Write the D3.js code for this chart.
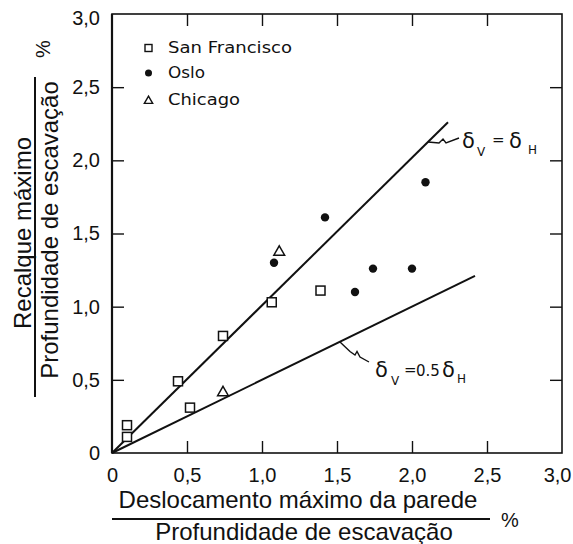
<!DOCTYPE html>
<html>
<head>
<meta charset="utf-8">
<script src="https://cdn.jsdelivr.net/npm/d3@7"></script>
<style>
  html, body { margin: 0; padding: 0; background: #fff; }
  svg { display: block; }
  text { fill: #111; }
</style>
</head>
<body>
<svg id="chart" width="573" height="544"></svg>
<script>
// ---- data ----
const xTicks = [0, 0.5, 1.0, 1.5, 2.0, 2.5, 3.0];
const yTicks = [0, 0.5, 1.0, 1.5, 2.0, 2.5, 3.0];
const tickLabels = ["0", "0,5", "1,0", "1,5", "2,0", "2,5", "3,0"];

const seriesNames = ["San Francisco", "Oslo", "Chicago"];
const sanFrancisco = [[0.10, 0.11], [0.10, 0.19], [0.44, 0.49], [0.52, 0.31], [0.74, 0.80], [1.065, 1.03], [1.39, 1.11]];
const oslo = [[1.08, 1.30], [1.42, 1.61], [2.09, 1.85], [1.74, 1.26], [2.00, 1.26], [1.62, 1.10]];
const chicago = [[0.74, 0.42], [1.115, 1.38]];

const lineEqual = [[0, 0], [2.24, 2.26]];   // δV = δH
const lineHalf = [[0, 0], [2.42, 1.21]];    // δV = 0.5δH

const xTitle1 = "Deslocamento máximo da parede";
const xTitle2 = "Profundidade de escavação";
const yTitle1 = "Recalque máximo";
const yTitle2 = "Profundidade de escavação";

// ---- drawing ----
(function () {
const svg = d3.select("#chart");
const ink = "#111";
const x = d3.scaleLinear().domain([0, 3]).range([112, 562]);
const y = d3.scaleLinear().domain([0, 3]).range([453, 14]);

const g = svg.append("g");

// frame
g.append("rect")
  .attr("x", x(0)).attr("y", y(3))
  .attr("width", x(3) - x(0)).attr("height", y(0) - y(3))
  .attr("fill", "none").attr("stroke", ink).attr("stroke-width", 1.6);
g.append("line").attr("x1", x(0)).attr("x2", x(0)).attr("y1", y(3)).attr("y2", y(0))
  .attr("stroke", ink).attr("stroke-width", 2.2);

// axes with inward ticks
const fmt = (d, i) => tickLabels[i];
const axB = d3.axisBottom(x).tickValues(xTicks).tickSize(-12).tickPadding(15).tickFormat(fmt);
const axL = d3.axisLeft(y).tickValues(yTicks).tickSize(-12).tickPadding(12).tickFormat(fmt);
const axT = d3.axisTop(x).tickValues(xTicks.slice(1, -1)).tickSize(-12).tickFormat("");
const axR = d3.axisRight(y).tickValues(yTicks.slice(1, -1)).tickSize(-12).tickFormat("");

function styleAxis(sel) {
  sel.select(".domain").remove();
  sel.selectAll(".tick line").attr("stroke", ink).attr("stroke-width", 1.4);
  sel.selectAll(".tick text").attr("fill", ink)
    .style("font-family", "'Liberation Sans', Arial, sans-serif").style("font-size", "20px");
}
const gB = g.append("g").attr("transform", `translate(0,${y(0)})`).call(axB).call(styleAxis);
gB.selectAll(".tick line").filter(d => d === 0 || d === 3).remove();
gB.selectAll(".tick text").filter(d => d === 3).attr("text-anchor", "end").attr("x", 9);
const gL = g.append("g").attr("transform", `translate(${x(0)},0)`).call(axL).call(styleAxis);
gL.selectAll(".tick line").filter(d => d === 0 || d === 3).remove();
gL.selectAll(".tick text").filter(d => d === 3).attr("dy", "0.5em");
g.append("g").attr("transform", `translate(0,${y(3)})`).call(axT).call(styleAxis);
g.append("g").attr("transform", `translate(${x(3)},0)`).call(axR).call(styleAxis);

// reference lines
const lineGen = d3.line().x(d => x(d[0])).y(d => y(d[1]));
g.append("path").datum(lineEqual).attr("d", lineGen).attr("fill", "none").attr("stroke", ink).attr("stroke-width", 2);
g.append("path").datum(lineHalf).attr("d", lineGen).attr("fill", "none").attr("stroke", ink).attr("stroke-width", 2);

// markers
const sqSize = 9;
g.selectAll("rect.sf").data(sanFrancisco).enter().append("rect")
  .attr("class", "sf")
  .attr("x", d => x(d[0]) - sqSize / 2).attr("y", d => y(d[1]) - sqSize / 2)
  .attr("width", sqSize).attr("height", sqSize)
  .attr("fill", "#fff").attr("stroke", ink).attr("stroke-width", 1.5);
g.selectAll("circle.oslo").data(oslo).enter().append("circle")
  .attr("class", "oslo")
  .attr("cx", d => x(d[0])).attr("cy", d => y(d[1])).attr("r", 4.2)
  .attr("fill", ink);
const tri = d3.symbol().type(d3.symbolTriangle).size(50);
g.selectAll("path.chi").data(chicago).enter().append("path")
  .attr("class", "chi")
  .attr("transform", d => `translate(${x(d[0])},${y(d[1]) + 1})`)
  .attr("d", tri).attr("fill", "#fff").attr("stroke", ink).attr("stroke-width", 1.5);

// legend
const legY = [48, 73, 100];
const legW = [124, 37, 72];
const leg = g.append("g");
leg.append("rect").attr("x", 145).attr("y", legY[0] - 3.5).attr("width", 7).attr("height", 7)
  .attr("fill", "#fff").attr("stroke", ink).attr("stroke-width", 1.4);
leg.append("circle").attr("cx", 148.5).attr("cy", legY[1]).attr("r", 3.5).attr("fill", ink);
leg.append("path").attr("transform", `translate(148.5,${legY[2] + 1})`)
  .attr("d", d3.symbol().type(d3.symbolTriangle).size(30))
  .attr("fill", "#fff").attr("stroke", ink).attr("stroke-width", 1.4);
seriesNames.forEach((name, i) => {
  leg.append("text").attr("x", 168).attr("y", legY[i]).attr("dy", "0.36em")
    .attr("textLength", legW[i]).attr("lengthAdjust", "spacingAndGlyphs")
    .style("font-family", "'DejaVu Sans', sans-serif").style("font-size", "15px")
    .text(name);
});

// annotation leaders
const leader = d3.line();
g.append("path").attr("d", leader([[428, 142], [439, 143], [443, 139], [446, 143], [459, 138]]))
  .attr("fill", "none").attr("stroke", ink).attr("stroke-width", 1.4);
g.append("path").attr("d", leader([[340, 342], [350, 351.5], [355, 355], [357, 351.5], [360, 357], [369, 362]]))
  .attr("fill", "none").attr("stroke", ink).attr("stroke-width", 1.4);

function annot(yp, parts) {
  const t = g.append("text").attr("y", yp)
    .style("font-family", "'DejaVu Sans', sans-serif");
  parts.forEach(p => {
    t.append("tspan").attr("x", p.x).attr("y", yp + (p.dy || 0))
      .style("font-size", p.s + "px").text(p.t);
  });
}
annot(148, [
  { t: "δ", s: 21, x: 462 },
  { t: "V", s: 12, x: 477, dy: 8 },
  { t: "=", s: 15, x: 492, dy: -3 },
  { t: "δ", s: 21, x: 509 },
  { t: "H", s: 12, x: 528, dy: 6 }
]);
annot(377, [
  { t: "δ", s: 21, x: 375 },
  { t: "V", s: 12, x: 391, dy: 8 },
  { t: "=", s: 15, x: 404, dy: -2 },
  { t: "0.5", s: 15, x: 416, dy: -1 },
  { t: "δ", s: 21, x: 442 },
  { t: "H", s: 12, x: 457, dy: 6 }
]);

// axis titles
const titleFont = "'Liberation Sans', Arial, sans-serif";
g.append("text").attr("x", 298).attr("y", 508).attr("text-anchor", "middle")
  .style("font-family", titleFont).style("font-size", "24px").text(xTitle1);
g.append("line").attr("x1", 112).attr("x2", 490).attr("y1", 519).attr("y2", 519)
  .attr("stroke", ink).attr("stroke-width", 2);
g.append("text").attr("x", 304).attr("y", 540).attr("text-anchor", "middle")
  .style("font-family", titleFont).style("font-size", "24px").text(xTitle2);
g.append("text").attr("x", 510).attr("y", 527).attr("text-anchor", "middle")
  .style("font-family", titleFont).style("font-size", "20px").text("%");

g.append("text").attr("transform", "translate(31,233) rotate(-90)").attr("text-anchor", "middle")
  .style("font-family", titleFont).style("font-size", "24px").text(yTitle1);
g.append("line").attr("x1", 35).attr("x2", 35).attr("y1", 77).attr("y2", 397)
  .attr("stroke", ink).attr("stroke-width", 2);
g.append("text").attr("transform", "translate(58,230) rotate(-90)").attr("text-anchor", "middle")
  .style("font-family", titleFont).style("font-size", "24px").text(yTitle2);
g.append("text").attr("transform", "translate(50,49) rotate(-90)").attr("text-anchor", "middle")
  .style("font-family", titleFont).style("font-size", "20px").text("%");
})();
</script>
</body>
</html>
